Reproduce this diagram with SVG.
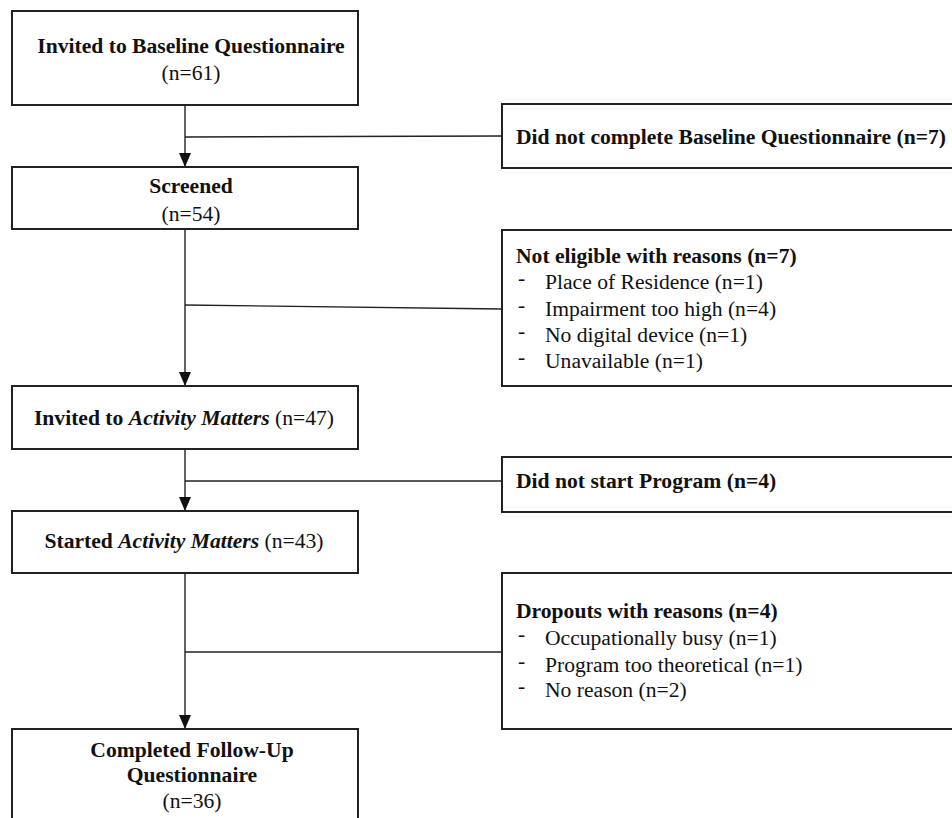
<svg xmlns="http://www.w3.org/2000/svg" width="952" height="818" viewBox="0 0 952 818">
<defs>
<marker id="ah" markerWidth="14" markerHeight="12" refX="14" refY="6" orient="auto" markerUnits="userSpaceOnUse">
<path d="M0,0 L14,6 L0,12 Z" fill="#111"/>
</marker>
<style>
.box{fill:#fff;stroke:#222;stroke-width:2}
.t{font-family:"Liberation Serif","Times New Roman",serif;font-size:21.6px;fill:#111}
.b{font-weight:bold}
.c{text-anchor:middle}
.ln{stroke:#222;stroke-width:1.4;fill:none}
</style>
</defs>
<g id="connectors">
<line class="ln" x1="185" y1="105" x2="185" y2="167" marker-end="url(#ah)"/>
<line class="ln" x1="185" y1="137" x2="502" y2="136"/>
<line class="ln" x1="185" y1="229" x2="185" y2="386" marker-end="url(#ah)"/>
<line class="ln" x1="185" y1="305" x2="502" y2="309"/>
<line class="ln" x1="185" y1="449" x2="185" y2="511" marker-end="url(#ah)"/>
<line class="ln" x1="185" y1="481" x2="502" y2="481"/>
<line class="ln" x1="185" y1="573" x2="185" y2="729" marker-end="url(#ah)"/>
<line class="ln" x1="185" y1="652" x2="502" y2="652"/>
</g>
<g id="n1">
<rect class="box" x="12" y="11" width="346" height="94"/>
<text class="t b c" x="191" y="53">Invited to Baseline Questionnaire</text>
<text class="t c" x="191" y="80">(n=61)</text>
</g>
<g id="n2">
<rect class="box" x="12" y="167" width="346" height="62"/>
<text class="t b c" x="191" y="193">Screened</text>
<text class="t c" x="191" y="221">(n=54)</text>
</g>
<g id="n3">
<rect class="box" x="12" y="386" width="346" height="63"/>
<text class="t c" x="184" y="425"><tspan class="b">Invited to </tspan><tspan font-weight="bold" font-style="italic">Activity Matters</tspan> (n=47)</text>
</g>
<g id="n4">
<rect class="box" x="12" y="511" width="346" height="62"/>
<text class="t c" x="184" y="548"><tspan font-weight="bold">Started </tspan><tspan font-weight="bold" font-style="italic">Activity Matters</tspan> (n=43)</text>
</g>
<g id="n5">
<rect class="box" x="12" y="729" width="346" height="100"/>
<text class="t b c" x="192" y="757">Completed Follow-Up</text>
<text class="t b c" x="192" y="782">Questionnaire</text>
<text class="t c" x="192" y="808">(n=36)</text>
</g>
<g id="r1">
<rect class="box" x="502" y="104" width="460" height="64"/>
<text class="t b" x="516" y="144">Did not complete Baseline Questionnaire (n=7)</text>
</g>
<g id="r2">
<rect class="box" x="502" y="230" width="460" height="156"/>
<text class="t b" x="516" y="263">Not eligible with reasons (n=7)</text>
<text class="t" x="518" y="285">-</text><text class="t" x="545" y="289">Place of Residence (n=1)</text>
<text class="t" x="518" y="312">-</text><text class="t" x="545" y="316">Impairment too high (n=4)</text>
<text class="t" x="518" y="338">-</text><text class="t" x="545" y="342">No digital device (n=1)</text>
<text class="t" x="518" y="364">-</text><text class="t" x="545" y="368">Unavailable (n=1)</text>
</g>
<g id="r3">
<rect class="box" x="502" y="457" width="460" height="55"/>
<text class="t b" x="516" y="488">Did not start Program (n=4)</text>
</g>
<g id="r4">
<rect class="box" x="502" y="573" width="460" height="156"/>
<text class="t b" x="516" y="618">Dropouts with reasons (n=4)</text>
<text class="t" x="518" y="641">-</text><text class="t" x="545" y="645">Occupationally busy (n=1)</text>
<text class="t" x="518" y="668">-</text><text class="t" x="545" y="672">Program too theoretical (n=1)</text>
<text class="t" x="518" y="693">-</text><text class="t" x="545" y="697">No reason (n=2)</text>
</g>
</svg>
